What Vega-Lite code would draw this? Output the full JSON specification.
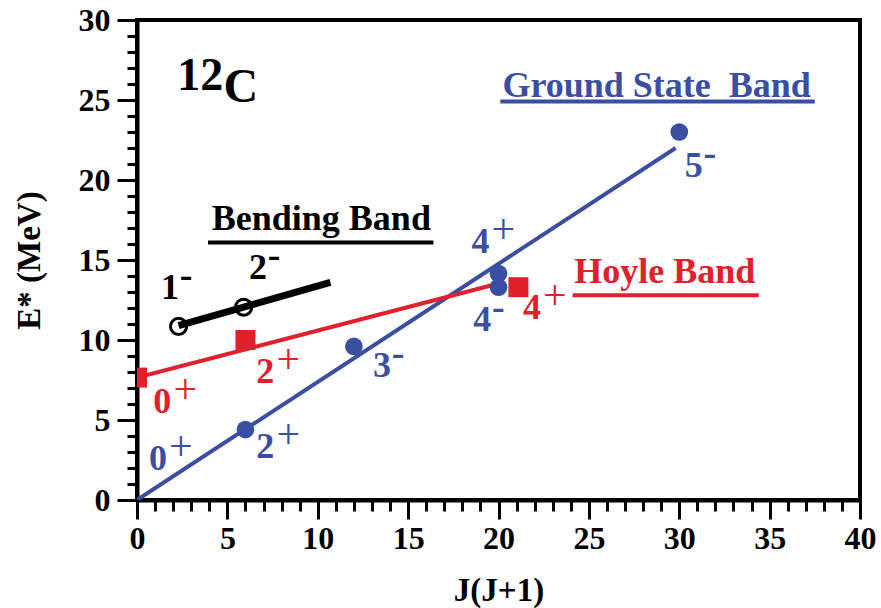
{
  "$schema": "https://vega.github.io/schema/vega-lite/v6.json",
  "width": 723,
  "height": 480,
  "autosize": {"type": "none"},
  "padding": {"left": 137, "top": 20, "right": 21, "bottom": 108},
  "background": "white",
  "config": {
    "view": {"stroke": "black", "strokeWidth": 4},
    "font": "Liberation Serif",
    "axis": {
      "domainColor": "black",
      "domainWidth": 4,
      "tickColor": "black",
      "tickWidth": 3,
      "labelFont": "Liberation Serif",
      "labelFontWeight": "bold",
      "labelFontSize": 32,
      "labelColor": "black",
      "titleFont": "Liberation Serif",
      "titleFontWeight": "bold",
      "titleFontSize": 33,
      "titleColor": "black",
      "grid": false
    }
  },
  "datasets": {
    "points": [
      {"band": "Ground", "x": 6, "y": 4.4},
      {"band": "Ground", "x": 12, "y": 9.6},
      {"band": "Ground", "x": 20, "y": 14.15},
      {"band": "Ground", "x": 20, "y": 13.3},
      {"band": "Ground", "x": 30, "y": 23.0},
      {"band": "Hoyle", "x": 0, "y": 7.65},
      {"band": "Hoyle", "x": 6, "y": 10.0},
      {"band": "Hoyle", "x": 21.1, "y": 13.3},
      {"band": "Bending", "x": 2.3, "y": 10.85},
      {"band": "Bending", "x": 5.9, "y": 12.05}
    ],
    "lines": [
      {"band": "Ground", "x": 0, "y": 0},
      {"band": "Ground", "x": 29.8, "y": 22.0},
      {"band": "Hoyle", "x": 0, "y": 7.65},
      {"band": "Hoyle", "x": 19.9, "y": 13.5},
      {"band": "Bending", "x": 2.3, "y": 10.9},
      {"band": "Bending", "x": 10.7, "y": 13.6}
    ],
    "labels": [
      {"band": "Ground", "x": 1.16, "y": 2.56, "num": "0", "sign": "+"},
      {"band": "Ground", "x": 7.1, "y": 3.3, "num": "2", "sign": "+"},
      {"band": "Ground", "x": 13.56, "y": 8.4, "num": "3", "sign": "-"},
      {"band": "Ground", "x": 19.0, "y": 16.1, "num": "4", "sign": "+"},
      {"band": "Ground", "x": 19.1, "y": 11.25, "num": "4", "sign": "-"},
      {"band": "Ground", "x": 30.8, "y": 20.9, "num": "5", "sign": "-"},
      {"band": "Hoyle", "x": 1.4, "y": 6.1, "num": "0", "sign": "+"},
      {"band": "Hoyle", "x": 7.1, "y": 8.0, "num": "2", "sign": "+"},
      {"band": "Hoyle", "x": 21.85, "y": 12.0, "num": "4", "sign": "+"},
      {"band": "Bending", "x": 1.83, "y": 13.25, "num": "1", "sign": "-"},
      {"band": "Bending", "x": 6.7, "y": 14.5, "num": "2", "sign": "-"}
    ],
    "titles": [
      {"band": "Ground", "x": 28.75, "y": 25.2, "text": "Ground State\u00a0 Band", "x1": 20.1, "x2": 37.5, "yu": 24.9},
      {"band": "Bending", "x": 10.2, "y": 16.9, "text": "Bending Band", "x1": 3.93, "x2": 16.4, "yu": 16.1},
      {"band": "Hoyle", "x": 29.2, "y": 13.56, "text": "Hoyle Band", "x1": 24.1, "x2": 34.4, "yu": 12.8}
    ],
    "nucleus": [
      {"x": 3.5, "y": 25.6, "text": "12", "size": 46},
      {"x": 5.75, "y": 24.9, "text": "C", "size": 48}
    ]
  },
  "encoding": {
    "x": {
      "field": "x", "type": "quantitative",
      "scale": {"domain": [0, 40], "nice": false, "zero": false},
      "axis": {
        "title": "J(J+1)",
        "values": [0,1,2,3,4,5,6,7,8,9,10,11,12,13,14,15,16,17,18,19,20,21,22,23,24,25,26,27,28,29,30,31,32,33,34,35,36,37,38,39,40],
        "labelExpr": "datum.value % 5 == 0 ? datum.label : ''",
        "tickSize": {"condition": {"test": "datum.value % 5 == 0", "value": 19}, "value": 11},
        "labelPadding": 4,
        "titleBaseline": "middle",
        "titleY": 90,
        "labelFlush": false
      }
    },
    "y": {
      "field": "y", "type": "quantitative",
      "scale": {"domain": [0, 30], "nice": false, "zero": false},
      "axis": {
        "title": "E* (MeV)",
        "values": [0,1,2,3,4,5,6,7,8,9,10,11,12,13,14,15,16,17,18,19,20,21,22,23,24,25,26,27,28,29,30],
        "labelExpr": "datum.value % 5 == 0 ? datum.label : ''",
        "tickSize": {"condition": {"test": "datum.value % 5 == 0", "value": 20}, "value": 10},
        "labelPadding": 7,
        "titleBaseline": "middle",
        "titleX": -108,
        "labelFlush": false
      }
    },
    "color": {
      "field": "band", "type": "nominal",
      "scale": {"domain": ["Ground", "Hoyle", "Bending"], "range": ["#3A4EA2", "#E0202A", "#000000"]},
      "legend": null
    }
  },
  "layer": [
    {
      "data": {"name": "lines"},
      "transform": [{"filter": "datum.band != 'Bending'"}],
      "mark": {"type": "line", "strokeWidth": 4, "clip": true},
      "encoding": {"detail": {"field": "band"}}
    },
    {
      "data": {"name": "lines"},
      "transform": [{"filter": "datum.band == 'Bending'"}],
      "mark": {"type": "line", "strokeWidth": 7, "strokeCap": "butt"},
      "encoding": {"detail": {"field": "band"}}
    },
    {
      "data": {"name": "points"},
      "transform": [{"filter": "datum.band == 'Ground'"}],
      "mark": {"type": "point", "shape": "circle", "filled": true, "size": 314, "opacity": 1}
    },
    {
      "data": {"name": "points"},
      "transform": [{"filter": "datum.band == 'Hoyle'"}],
      "mark": {"type": "point", "shape": "square", "filled": true, "size": 400, "opacity": 1, "clip": true}
    },
    {
      "data": {"name": "points"},
      "transform": [{"filter": "datum.band == 'Bending'"}],
      "mark": {"type": "point", "shape": "circle", "filled": false, "size": 260, "strokeWidth": 3, "opacity": 1}
    },
    {
      "data": {"name": "labels"},
      "mark": {"type": "text", "font": "Liberation Serif", "fontWeight": "bold", "fontSize": 36, "align": "center", "baseline": "middle"},
      "encoding": {"text": {"field": "num"}}
    },
    {
      "data": {"name": "labels"},
      "transform": [{"filter": "datum.sign == '+'"}],
      "mark": {"type": "text", "font": "Liberation Serif", "fontWeight": "normal", "fontSize": 42, "align": "center", "baseline": "middle", "dx": 23, "dy": -12},
      "encoding": {"text": {"field": "sign"}}
    },
    {
      "data": {"name": "labels"},
      "transform": [{"filter": "datum.sign == '-'"}],
      "mark": {"type": "text", "font": "Liberation Serif", "fontWeight": "bold", "fontSize": 38, "align": "center", "baseline": "middle", "dx": 16, "dy": -12},
      "encoding": {"text": {"field": "sign"}}
    },
    {
      "data": {"name": "titles"},
      "mark": {"type": "text", "font": "Liberation Serif", "fontWeight": "bold", "fontSize": 36, "align": "center", "baseline": "alphabetic"},
      "encoding": {"text": {"field": "text"}}
    },
    {
      "data": {"name": "titles"},
      "mark": {"type": "rule", "strokeWidth": 4},
      "encoding": {
        "x": {"field": "x1", "type": "quantitative"},
        "x2": {"field": "x2"},
        "y": {"field": "yu", "type": "quantitative"}
      }
    },
    {
      "data": {"name": "nucleus"},
      "mark": {"type": "text", "font": "Liberation Serif", "fontWeight": "bold", "align": "center", "baseline": "alphabetic"},
      "encoding": {
        "text": {"field": "text"},
        "size": {"field": "size", "type": "quantitative", "scale": null},
        "color": {"value": "black"}
      }
    }
  ]
}
